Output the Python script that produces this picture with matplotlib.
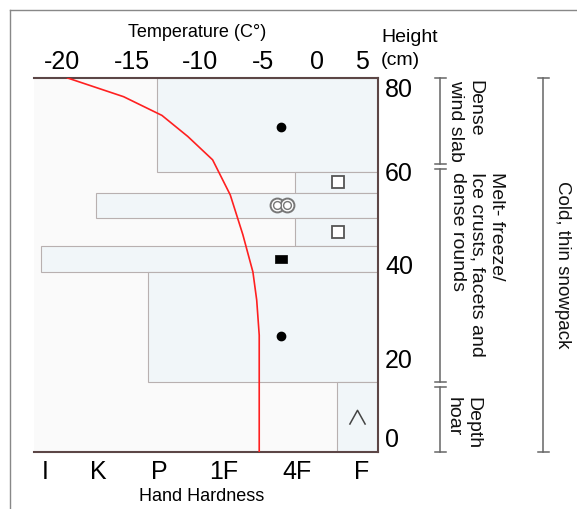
import numpy as np
import matplotlib
matplotlib.use("Agg")
from matplotlib import pyplot as plt
from matplotlib.lines import Line2D

plt.rcParams['font.family'] = ['Liberation Sans', 'DejaVu Sans']

# hand hardness scale, hardest (I) to softest (F)
hardness_labels = ['I', 'K', 'P', '1F', '4F', 'F']
temp_ticks = [-20, -15, -10, -5, 0, 5]
height_ticks = [0, 20, 40, 60, 80]

# snow layers from the top down (cm), hardness as index I=0 ... F=5
layer_top = [80, 60, 55.5, 50, 44, 38.5, 15]
layer_bottom = [60, 55.5, 50, 44, 38.5, 15, 0]
layer_hardness = [1.97, 3.97, 0.96, 3.97, -0.08, 1.82, 4.62]
layer_grain = ['rounds', 'facets', 'crust', 'facets', 'ice', 'rounds', 'hoar']

# temperature profile
temp_height = [0, 15, 25, 32.5, 38.5, 46.5, 55, 62.5, 67.5, 72, 76, 80]
temp_value = [-5.3, -5.3, -5.3, -5.5, -5.8, -6.6, -7.6, -9.0, -10.9, -12.8, -15.6, -19.6]

# layer groups on the right
group_labels = ['Dense\nwind slab',
                'Melt- freeze/\nIce crusts, facets and\ndense rounds',
                'Depth\nhoar']
group_top = [80, 60.5, 13.8]
group_bottom = [61.5, 15, 0]
pack_label = 'Cold, thin snowpack'

# --- layout (pixels of the 577x509 drawing) ---
W, H = 577, 509
HARD_PX = [45, 98, 159, 224, 297, 362]   # the drawing's scales are not even
TEMP_PX = [62, 132, 200, 263, 317, 362]
AX_L, AX_R, AX_T, AX_B = 34, 378, 78, 452

symbol_x = [3.78, 4.63, 3.795, 4.63, 3.78, 3.78, 4.92]
symbol_y = [69.5, 57.75, 52.75, 47, 41.25, 24.8, 7.5]

BAR_FACE = '#f1f6f9'
BAR_EDGE = '#b8b0b0'
SPINE = '#5c4646'
SYM = '#555555'


def extrap(x, xp, fp):
    # np.interp with linear extension past both ends
    x = np.asarray(x, dtype=float)
    flat = np.atleast_1d(x).ravel()
    y = np.interp(flat, xp, fp)
    lo = flat < xp[0]
    hi = flat > xp[-1]
    y[lo] = fp[0] + (flat[lo] - xp[0]) * (fp[1] - fp[0]) / (xp[1] - xp[0])
    y[hi] = fp[-1] + (flat[hi] - xp[-1]) * (fp[-1] - fp[-2]) / (xp[-1] - xp[-2])
    return y.reshape(x.shape)


hard_idx = list(range(len(hardness_labels)))

fig = plt.figure(figsize=(W / 100, H / 100), dpi=100)
ax = fig.add_axes([AX_L / W, 1 - AX_B / H, (AX_R - AX_L) / W, (AX_B - AX_T) / H])
ax.set_facecolor('#fafafa')

ax.set_xscale('function', functions=(lambda v: extrap(v, hard_idx, HARD_PX),
                                     lambda p: extrap(p, HARD_PX, hard_idx)))
x_lo, x_hi = extrap([AX_L, AX_R], HARD_PX, hard_idx)
ax.set_xlim(x_lo, x_hi)
ax.set_ylim(0, 80)

# layers, drawn from their hardness to the soft (right) edge
lefts = np.array(layer_hardness)
bottoms = np.array(layer_bottom)
ax.barh(bottoms, x_hi - lefts, height=np.array(layer_top) - bottoms, left=lefts,
        align='edge', color=BAR_FACE, edgecolor=BAR_EDGE, linewidth=0.8, zorder=2)

# grain type symbols
for g, sx, sy in zip(layer_grain, symbol_x, symbol_y):
    if g == 'rounds':
        ax.plot(sx, sy, marker='o', ms=6, mfc='black', mec='black', zorder=4)
    elif g == 'facets':
        ax.plot(sx, sy, marker='s', ms=8, mfc='white', mec=SYM, mew=1.3, zorder=4)
    elif g == 'ice':
        ax.plot(sx, sy, marker=[(-1, -0.68), (1, -0.68), (1, 0.68), (-1, 0.68), (-1, -0.68)],
                ms=8.6, mfc='black', mec='black', mew=0.5, zorder=4)
    elif g == 'hoar':
        ax.plot(sx, sy, marker=[(-1, -0.9), (0, 0.9), (1, -0.9)], ms=11.5,
                mfc='none', mec='#444444', mew=1.1, zorder=4)
    elif g == 'crust':
        for dx in (-0.072, 0.072):
            ax.plot(sx + dx, sy, marker='o', ms=10, mfc='white', mec='#777777', mew=1.4, zorder=4)
        for dx in (-0.072, 0.072):
            ax.plot(sx + dx, sy, marker='o', ms=5.6, mfc='white', mec='#777777', mew=1.0, zorder=5)

# axes styling
for side in ('top', 'right', 'bottom'):
    ax.spines[side].set_color(SPINE)
    ax.spines[side].set_linewidth(1.5)
ax.spines['left'].set_visible(False)

ax.set_xticks(hard_idx)
ax.set_xticklabels(hardness_labels)
ax.tick_params(axis='x', length=0, pad=6, labelsize=18, colors='black')

# temperature on the top axis
axt = ax.twiny()
axt.set_xscale('function', functions=(lambda v: extrap(v, temp_ticks, TEMP_PX),
                                      lambda p: extrap(p, TEMP_PX, temp_ticks)))
axt.set_xlim(*extrap([AX_L, AX_R], TEMP_PX, temp_ticks))
axt.set_xticks(temp_ticks)
axt.set_xticklabels([str(t) for t in temp_ticks])
axt.tick_params(axis='x', length=0, pad=3, labelsize=18)
for s in axt.spines.values():
    s.set_visible(False)
axt.plot(temp_value, temp_height, color='#ff2020', lw=1.2, zorder=6)

ax.yaxis.tick_right()
ax.set_yticks(height_ticks)
ax.tick_params(axis='y', length=0, pad=5, labelsize=18)
# end labels sit inside the axis span in the drawing
ylabels = ax.get_yticklabels()
ylabels[0].set_verticalalignment('bottom')
ylabels[-1].set_verticalalignment('top')

# brackets and descriptions to the right
ytr = ax.get_yaxis_transform()
def frac(px):
    return (px - AX_L) / (AX_R - AX_L)

def bracket(xpx, y0, y1):
    x = frac(xpx)
    cap = 5.5 / (AX_R - AX_L)
    kw = dict(transform=ytr, clip_on=False, color='#666666', lw=1.1)
    ax.plot([x, x], [y0, y1], **kw)
    ax.plot([x - cap, x + cap], [y0, y0], **kw)
    ax.plot([x - cap, x + cap], [y1, y1], **kw)

for top, bot in zip(group_top, group_bottom):
    bracket(440, bot, top)
bracket(543, 0, 80)

group_text_x = [465, 477, 463]
group_text_top = [79.6, 59.9, 11.8]
for lab, tx, ty in zip(group_labels, group_text_x, group_text_top):
    ax.text(frac(tx), ty, lab, transform=ytr, rotation=-90, ha='center', va='top',
            multialignment='left', fontsize=14, linespacing=1.2, color='#111111')
ax.text(frac(563), 40, pack_label, transform=ytr, rotation=-90, ha='center', va='center',
        fontsize=13.5, color='#111111')

# titles
fig.text(197 / W, 1 - 37.3 / H, 'Temperature (C°)', ha='center', va='baseline', fontsize=13)
fig.text(202 / W, 1 - 501 / H, 'Hand Hardness', ha='center', va='baseline', fontsize=13)
fig.text(381 / W, 1 - 29 / H, 'Height\n(cm)', ha='left', va='top', fontsize=14, linespacing=1.45)

# outer frame (only left and top edges are in view)
fig.add_artist(Line2D([10 / W, 10 / W], [0, 1 - 10 / H], color='#888888', lw=1))
fig.add_artist(Line2D([10 / W, 1], [1 - 10 / H, 1 - 10 / H], color='#888888', lw=1))

fig.savefig('out.png', dpi=100)
plt.close(fig)
